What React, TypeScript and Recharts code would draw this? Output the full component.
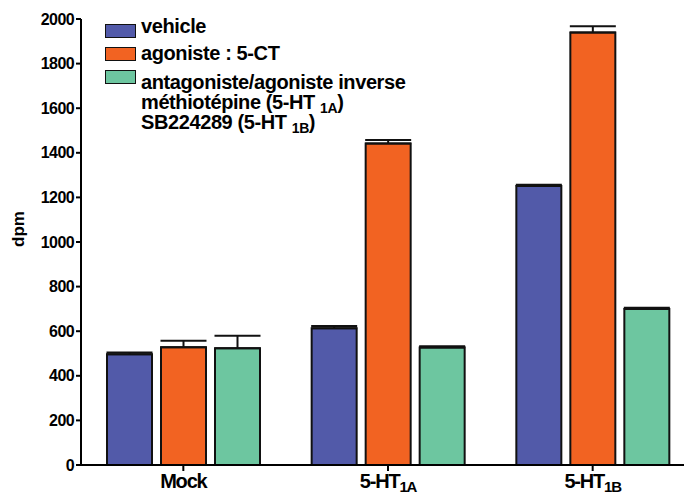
import { Bar, BarChart, ErrorBar, XAxis, YAxis, Label } from 'recharts';

const categories = ['Mock', '5-HT1A', '5-HT1B'];
const vehicle = [497, 613, 1251];
const vehicleErr = [7, 10, 6];
const agoniste = [528, 1442, 1939];
const agonisteErr = [29, 15, 28];
const antagoniste = [523, 527, 700];
const antagonisteErr = [57, 6, 5];
const yTicks = [0, 200, 400, 600, 800, 1000, 1200, 1400, 1600, 1800, 2000];

const COLORS = { vehicle: '#525aa9', agoniste: '#f26322', antagoniste: '#6dc6a0' };
const FONT = '"Liberation Sans", Arial, sans-serif';

const data = categories.map((c, i) => ({
  name: c,
  vehicle: vehicle[i],
  vehicleErr: [0, vehicleErr[i]],
  agoniste: agoniste[i],
  agonisteErr: [0, agonisteErr[i]],
  antagoniste: antagoniste[i],
  antagonisteErr: [0, antagonisteErr[i]],
}));

function CategoryTick(props: any) {
  const { x, y, payload } = props;
  const v: string = payload.value;
  const m = v.match(/^(5-HT)(1[AB])$/);
  return (
    <text x={x} y={y + 15} textAnchor="middle" fontFamily={FONT} fontWeight="bold" fontSize={20} letterSpacing={-1.2} fill="#000">
      {m ? (
        <>
          <tspan>{m[1]}</tspan>
          <tspan fontSize={15} dy={4}>{m[2]}</tspan>
        </>
      ) : (
        v
      )}
    </text>
  );
}

function LegendBox() {
  const sw = (color: string, top: number) => (
    <div style={{ position: 'absolute', left: 105, top, width: 29, height: 12, background: color, border: '1.5px solid #111' }} />
  );
  const txt: React.CSSProperties = {
    position: 'absolute',
    left: 141,
    fontFamily: FONT,
    fontWeight: 'bold',
    fontSize: 20,
    letterSpacing: -0.4,
    color: '#000',
    whiteSpace: 'nowrap',
    lineHeight: '20px',
  };
  const sub: React.CSSProperties = { fontSize: 14, position: 'relative', top: 4, lineHeight: 0 };
  return (
    <div style={{ position: 'absolute', left: 0, top: 0, width: 420, height: 140 }}>
      {sw(COLORS.vehicle, 24)}
      <div style={{ ...txt, top: 16 }}>vehicle</div>
      {sw(COLORS.agoniste, 47)}
      <div style={{ ...txt, top: 43 }}>agoniste : 5-CT</div>
      {sw(COLORS.antagoniste, 70)}
      <div style={{ ...txt, top: 72 }}>antagoniste/agoniste inverse</div>
      <div style={{ ...txt, top: 92 }}>
        méthiotépine (5-HT <span style={sub}>1A</span>)
      </div>
      <div style={{ ...txt, top: 112 }}>
        SB224289 (5-HT <span style={sub}>1B</span>)
      </div>
    </div>
  );
}

export default function App() {
  return (
    <div style={{ position: 'absolute', left: 0, top: 0, width: 684, height: 494, overflow: 'hidden', background: '#fff' }}>
      <BarChart
        width={700}
        height={494}
        data={data}
        margin={{ top: 19, right: 5, bottom: 0, left: 0 }}
        barCategoryGap={26}
        barGap={9}
      >
        <XAxis
          dataKey="name"
          height={29}
          tick={<CategoryTick />}
          tickLine={{ stroke: '#000', strokeWidth: 2 }}
          tickSize={6}
          axisLine={{ stroke: '#000', strokeWidth: 2 }}
          interval={0}
        />
        <YAxis
          width={81}
          domain={[0, 2000]}
          ticks={yTicks}
          interval={0}
          tickSize={5}
          tickLine={{ stroke: '#000', strokeWidth: 2 }}
          axisLine={{ stroke: '#000', strokeWidth: 2 }}
          tick={{ fill: '#000', fontFamily: FONT, fontWeight: 'bold', fontSize: 16, letterSpacing: -0.6 }}
          tickMargin={2}
        >
          <Label
            value="dpm"
            angle={-90}
            position="insideLeft"
            offset={18}
            dy={-13}
            style={{ fill: '#000', fontFamily: FONT, fontWeight: 'bold', fontSize: 17, textAnchor: 'middle' }}
          />
        </YAxis>
        <Bar dataKey="vehicle" fill={COLORS.vehicle} stroke="#111" strokeWidth={2} isAnimationActive={false}>
          <ErrorBar dataKey="vehicleErr" width={23} stroke="#111" strokeWidth={2} direction="y" />
        </Bar>
        <Bar dataKey="agoniste" fill={COLORS.agoniste} stroke="#111" strokeWidth={2} isAnimationActive={false}>
          <ErrorBar dataKey="agonisteErr" width={23} stroke="#111" strokeWidth={2} direction="y" />
        </Bar>
        <Bar dataKey="antagoniste" fill={COLORS.antagoniste} stroke="#111" strokeWidth={2} isAnimationActive={false}>
          <ErrorBar dataKey="antagonisteErr" width={23} stroke="#111" strokeWidth={2} direction="y" />
        </Bar>
      </BarChart>
      <LegendBox />
    </div>
  );
}
